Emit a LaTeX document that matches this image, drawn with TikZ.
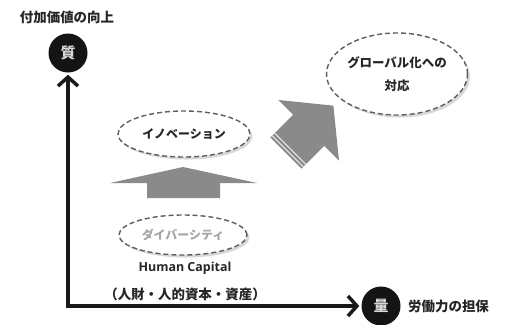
\documentclass[tikz,border=0pt]{standalone}
\usepackage{fontspec}
\setmainfont{Noto Sans CJK JP}
\newfontfamily\latinfont{Open Sans}
\usetikzlibrary{arrows.meta,shapes.geometric,shadows}
\definecolor{arrowgray}{HTML}{8A8A8A}
\definecolor{dashgray}{HTML}{5E5E5E}
\definecolor{inkgray}{HTML}{262626}
\begin{document}
\begin{tikzpicture}[x=1bp,y=-1bp,
    idea/.style={ellipse,draw=dashgray,line width=1.4bp,dash pattern=on 5bp off 3bp,
      fill=white,drop shadow={shadow xshift=2.5bp,shadow yshift=-2.5bp,fill=black!30},
      inner sep=0pt,text=inkgray,font=\bfseries\fontsize{12}{14}\selectfont},
    badge/.style={circle,fill=black!92,minimum size=39bp,inner sep=0pt,
      text=white!85!black,font=\bfseries\fontsize{15}{15}\selectfont},
    caption/.style={inner sep=0pt,text=inkgray,font=\bfseries\fontsize{13.5}{16}\selectfont},
    axis/.style={draw=black!90,line width=3.5bp,
      {Straight Barb[length=9bp,width=20bp]}-{Straight Barb[length=9bp,width=20bp]}}]
  \useasboundingbox (0,0) rectangle (510,324);
  \draw
    (67,17) node[caption] (title) {付加価値の向上}
    (68,53) node[badge] (shitsu) {質}
    (381,306) node[badge] (ryo) {量}
    (408,306) node[caption,anchor=west] (labour) {労働力の担保}
    (185,268) node[caption,font=\latinfont\bfseries\fontsize{12.5}{14}\selectfont] (hc) {Human Capital}
    (185,294) node[caption] (assets) {（人財・人的資本・資産）};
  \coordinate (o) at (68,306);
  \draw[axis,shorten <=2bp,shorten >=2bp] (shitsu) -- (o) -- (ryo);
  \node[idea,minimum width=132bp,minimum height=46bp] (innov) at (184,134) {イノベーション};
  \node[idea,minimum width=128bp,minimum height=40bp,text=black!35] (divers) at (183,235) {ダイバーシティ};
  \node[idea,minimum width=141bp,minimum height=82bp,align=center,
    font=\bfseries\fontsize{12.5}{14}\selectfont] (global) at (397,74) {グローバル化への\\[9bp]対応};
  \fill[arrowgray] (110,183) -- (183,167) -- (257,183) -- (220,183)
    -- (220,198) -- (147,198) -- (147,183) -- cycle;
  \begin{scope}[shift={(286,153)},rotate=45]
    \fill[arrowgray] (0,-22) -- (32,-22) -- (32,-43) -- (67,0)
      -- (32,43) -- (32,22) -- (0,22) -- cycle;
    \draw[white,line width=1.2bp,opacity=0.7] (2.5,-22) -- (2.5,22) (6,-22) -- (6,22);
  \end{scope}
\end{tikzpicture}
\end{document}
